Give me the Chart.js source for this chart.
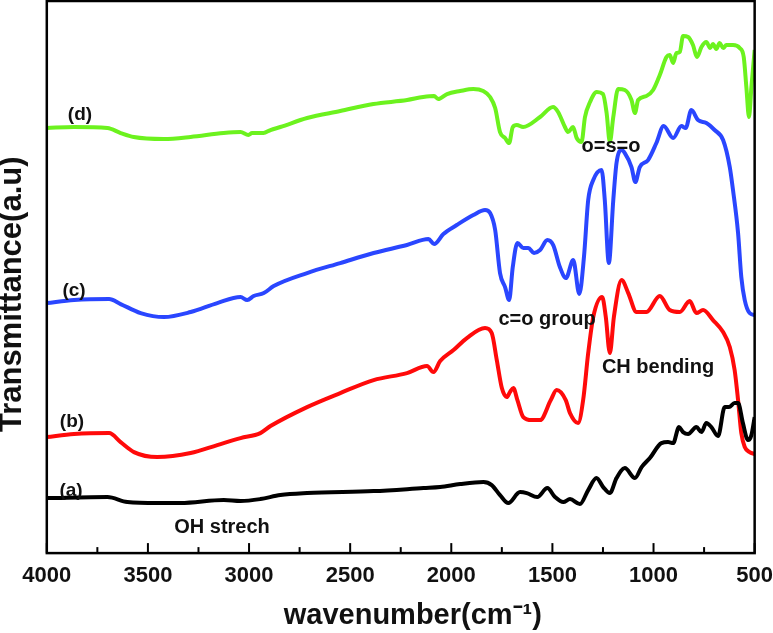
<!DOCTYPE html>
<html>
<head>
<meta charset="utf-8">
<script src="https://cdn.jsdelivr.net/npm/chart.js@4.4.1/dist/chart.umd.min.js"></script>
<style>
  html, body { margin: 0; padding: 0; background: #ffffff; }
  #wrap { position: relative; width: 773px; height: 633px; }
</style>
</head>
<body>
<div id="wrap"><canvas id="c" width="773" height="633"></canvas></div>
<script>
// ---- data (x: wavenumber cm-1, y: transmittance, arbitrary units) ----
const xTickValues = [4000, 3500, 3000, 2500, 2000, 1500, 1000, 500];

const wnA = [4000,3700,3602,3454,3339,3125,3042,2944,2845,2713,2384,2137,2055,1956,1841,1800,1759,1718,1660,1627,1575,1525,1487,1446,1413,1364,1323,1282,1249,1216,1183,1142,1092,1059,1018,961,928,903,874,854,829,788,763,739,714,681,648,627,599,582,558,533,516,500];
const tA  = [55,56,51,50,50,53,52,54,58,60,62,65,66,69,71,68,58,50,61,60,56,65,56,51,54,49,63,75,66,60,75,85,75,86,95,110,111,110,126,121,119,126,121,130,126,117,146,146,150,150,130,113,118,136];

const wnB = [4000,3865,3692,3635,3569,3454,3289,3157,3042,2944,2894,2713,2549,2384,2219,2120,2088,2055,1989,1923,1833,1800,1775,1750,1726,1710,1693,1673,1644,1602,1561,1508,1479,1434,1413,1373,1348,1323,1298,1254,1236,1216,1196,1158,1125,1084,1035,969,920,870,821,788,755,706,656,623,599,582,566,549,525,500];
const tB  = [116,119,120,111,101,96,100,108,115,120,127,146,160,173,180,187,181,192,203,215,225,220,193,165,156,161,165,153,136,133,133,153,163,153,140,130,153,200,236,256,236,200,236,273,260,241,241,257,243,241,252,240,243,233,221,206,183,153,120,106,101,99];

const wnC = [4000,3865,3692,3635,3536,3421,3289,3157,3042,3009,2977,2927,2878,2713,2549,2384,2219,2113,2085,2039,1973,1891,1833,1808,1783,1759,1734,1714,1696,1673,1644,1619,1591,1561,1525,1496,1463,1433,1397,1367,1344,1323,1298,1257,1241,1221,1199,1183,1158,1142,1109,1090,1068,1027,986,950,903,862,841,813,780,739,698,656,623,607,582,566,549,525,500];
const tC  = [250,253,254,249,240,236,241,250,256,253,257,260,267,280,290,300,308,314,309,319,328,338,343,340,323,280,266,253,286,310,305,305,300,303,313,308,286,275,293,259,296,353,373,383,353,290,353,390,403,400,386,371,386,393,410,427,415,427,425,443,433,430,423,413,386,363,320,276,253,240,238];

const wnD = [4000,3865,3700,3635,3570,3422,3289,3126,3042,3003,2985,2929,2894,2845,2713,2549,2385,2218,2139,2085,2065,2021,1956,1891,1842,1808,1783,1759,1734,1714,1696,1676,1645,1561,1497,1472,1438,1423,1398,1380,1356,1339,1314,1281,1250,1232,1216,1199,1175,1142,1109,1092,1076,1035,1002,969,936,920,903,887,870,854,829,805,785,763,739,720,706,690,673,655,640,607,574,554,541,528,516,500];
const tD  = [425,426,425,420,416,414,416,420,421,418,420,420,423,426,435,442,449,453,456,457,454,459,462,464,462,456,445,421,415,410,426,428,426,436,446,441,426,421,426,415,411,436,451,461,459,440,411,436,464,463,453,440,453,457,463,478,496,498,490,500,501,517,516,508,496,506,511,505,509,504,510,505,508,508,505,496,466,436,466,503];

const seriesNames = ['(a)', '(b)', '(c)', '(d)'];
const annotationTexts = ['OH strech', 'c=o group', 'CH bending', 'o=s=o'];

function pts(xs, ys) { return xs.map((x, i) => ({ x: x, y: ys[i] })); }

const FONT = "'Liberation Sans', Arial, Helvetica, sans-serif";

// label placements (pixels on the canvas)
const labelPlacements = [
  { text: seriesNames[3], x: 80, y: 115 },
  { text: seriesNames[2], x: 74, y: 291 },
  { text: seriesNames[1], x: 72, y: 422 },
  { text: seriesNames[0], x: 71, y: 491 },
  { text: annotationTexts[0], x: 222, y: 527 },
  { text: annotationTexts[1], x: 547, y: 319 },
  { text: annotationTexts[2], x: 658, y: 367 },
  { text: annotationTexts[3], x: 611, y: 146 }
];

const frameAndTicks = {
  id: 'frameAndTicks',
  afterDatasetsDraw(chart) {
    const { ctx, chartArea: a, scales } = chart;
    const xs = scales.x;
    ctx.save();
    ctx.strokeStyle = '#000';
    ctx.lineWidth = 2;
    // inward ticks on the bottom axis
    for (let v = 500; v <= 4000; v += 250) {
      const px = xs.getPixelForValue(v);
      const major = (v % 500 === 0);
      ctx.beginPath();
      ctx.moveTo(px, a.bottom);
      ctx.lineTo(px, a.bottom - (major ? 10 : 6));
      ctx.stroke();
    }
    ctx.lineWidth = 2.5;
    ctx.strokeRect(a.left, a.top, a.right - a.left, a.bottom - a.top);
    // text labels
    ctx.fillStyle = '#111';
    ctx.textAlign = 'center';
    ctx.textBaseline = 'middle';
    labelPlacements.forEach((l, i) => {
      ctx.font = 'bold ' + (i < 4 ? 19 : 20) + 'px ' + FONT;
      ctx.fillText(l.text, l.x, l.y);
    });
    ctx.restore();
  }
};

const common = { fill: false, pointRadius: 0, borderWidth: 4, cubicInterpolationMode: 'monotone' };

new Chart(document.getElementById('c'), {
  type: 'line',
  data: {
    datasets: [
      Object.assign({ label: seriesNames[0], data: pts(wnA, tA), borderColor: '#000000' }, common),
      Object.assign({ label: seriesNames[1], data: pts(wnB, tB), borderColor: '#ff0a0a' }, common),
      Object.assign({ label: seriesNames[2], data: pts(wnC, tC), borderColor: '#2a46ff' }, common),
      Object.assign({ label: seriesNames[3], data: pts(wnD, tD), borderColor: '#6cf21e' }, common)
    ]
  },
  options: {
    responsive: false,
    animation: false,
    devicePixelRatio: 1,
    layout: { padding: { top: 1, right: 0, bottom: 0, left: 0 } },
    plugins: { legend: { display: false }, tooltip: { enabled: false } },
    scales: {
      x: {
        type: 'linear',
        reverse: true,
        min: 500,
        max: 4000,
        afterBuildTicks: (s) => { s.ticks = xTickValues.map(v => ({ value: v })); },
        ticks: {
          color: '#111',
          padding: 0,
          maxRotation: 0,
          autoSkip: false,
          font: { family: FONT, size: 22, weight: 'bold', lineHeight: 2.05 },
          callback: (v) => String(v)
        },
        grid: { display: false, drawTicks: false },
        border: { display: false },
        title: {
          display: true,
          text: '   wavenumber(cm\u207B\u00B9)',
          color: '#111',
          padding: { top: 0, bottom: 0 },
          font: { family: FONT, size: 29, weight: 'bold' }
        }
      },
      y: {
        type: 'linear',
        min: 0,
        max: 552,
        ticks: { display: false },
        grid: { display: false, drawTicks: false },
        border: { display: false },
        title: {
          display: true,
          text: 'Transmittance(a.u)    ',
          color: '#111',
          padding: { top: 0, bottom: 22 },
          font: { family: FONT, size: 31, weight: 'bold', lineHeight: 0.8 }
        }
      }
    }
  },
  plugins: [frameAndTicks]
});
</script>
</body>
</html>
